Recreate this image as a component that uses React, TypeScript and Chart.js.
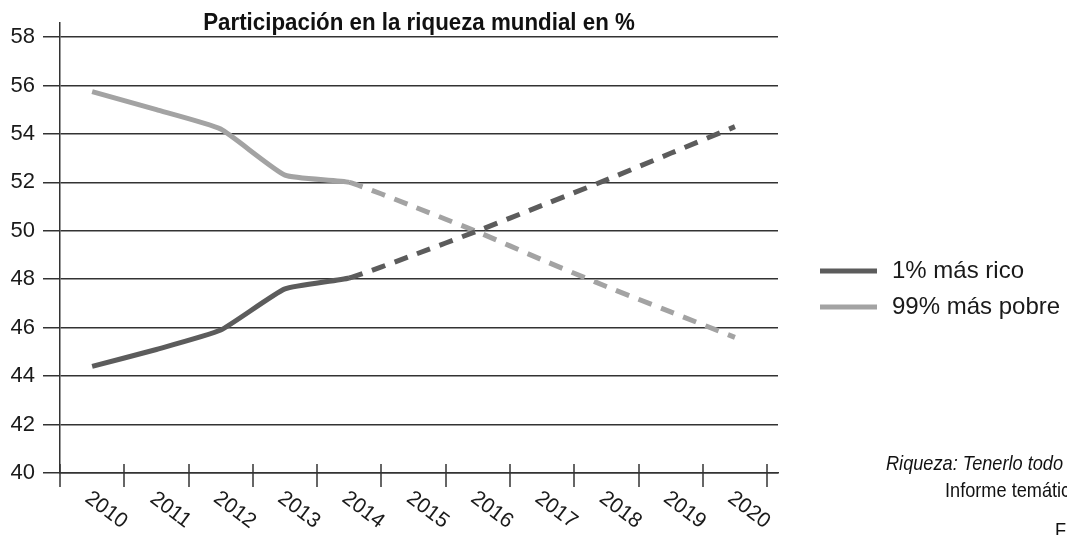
import React, { useEffect, useRef } from "react";
import { Chart, registerables } from "chart.js";

Chart.register(...registerables);

const TITLE = "Participación en la riqueza mundial en %";
const YEARS = [2010, 2011, 2012, 2013, 2014, 2015, 2016, 2017, 2018, 2019, 2020];
const RICH = [44.4, 45.1, 45.9, 47.6, 48.05, 49.0, 50.0, 51.05, 52.1, 53.2, 54.3];
const POOR = [55.75, 55.0, 54.2, 52.3, 52.0, 51.0, 49.95, 48.8, 47.7, 46.65, 45.6];
const SERIES_LABELS = ["1% más rico", "99% más pobre"];
const SERIES_COLORS = ["#5c5c5c", "#a3a3a3"];
const LAST_SOLID_INDEX = 4;
const Y_MIN = 40;
const Y_MAX = 58.58;
const Y_STEP = 2;
const SOURCE_LINES = [
  "Riqueza: Tenerlo todo y siempre querer más",
  "Informe temático de Oxfam",
  "Fuente: Credit Suisse",
];

const SANS = '"Liberation Sans", Arial, sans-serif';
const AXIS_COLOR = "#333333";

function narrowText(
  ctx: CanvasRenderingContext2D,
  text: string,
  x: number,
  y: number,
  sx: number,
  align: CanvasTextAlign
) {
  ctx.save();
  ctx.translate(x, y);
  ctx.scale(sx, 1);
  ctx.textAlign = align;
  ctx.fillText(text, 0, 0);
  ctx.restore();
}

const overlayPlugin = {
  id: "overlay",
  afterDraw(chart: any) {
    const ctx = chart.ctx as CanvasRenderingContext2D;
    const xs = chart.scales.x;
    const area = chart.chartArea;
    ctx.save();

    // x tick marks crossing the axis
    ctx.strokeStyle = AXIS_COLOR;
    ctx.lineWidth = 1.5;
    for (let i = 0; i <= YEARS.length; i++) {
      const px = Math.round(xs.getPixelForValue(YEARS[0] - 0.5 + i));
      ctx.beginPath();
      ctx.moveTo(px, area.bottom - 9);
      ctx.lineTo(px, area.bottom + 14);
      ctx.stroke();
    }

    // rotated year labels
    ctx.fillStyle = "#1a1a1a";
    ctx.font = `21px ${SANS}`;
    ctx.textAlign = "center";
    ctx.textBaseline = "middle";
    YEARS.forEach((yr) => {
      const px = xs.getPixelForValue(yr);
      ctx.save();
      ctx.translate(px + 14, area.bottom + 37);
      ctx.rotate((37 * Math.PI) / 180);
      ctx.fillText(String(yr), 0, 0);
      ctx.restore();
    });

    // title
    ctx.font = `bold 24px ${SANS}`;
    ctx.textBaseline = "alphabetic";
    ctx.fillStyle = "#111111";
    narrowText(ctx, TITLE, (area.left + area.right) / 2, 29.5, 0.93, "center");

    // legend
    chart.data.datasets.forEach((ds: any, i: number) => {
      const y = 271 + i * 36;
      ctx.strokeStyle = ds.borderColor;
      ctx.lineWidth = 5;
      ctx.beginPath();
      ctx.moveTo(820, y);
      ctx.lineTo(877, y);
      ctx.stroke();
      ctx.fillStyle = "#1a1a1a";
      ctx.font = `24px ${SANS}`;
      ctx.textAlign = "left";
      ctx.textBaseline = "middle";
      ctx.fillText(ds.label, 892, y);
    });

    // source note (clipped by canvas edge, as in the reference)
    ctx.fillStyle = "#111111";
    ctx.textBaseline = "middle";
    ctx.font = `italic 21px ${SANS}`;
    narrowText(ctx, SOURCE_LINES[0], 886, 464, 0.865, "left");
    ctx.font = `21px ${SANS}`;
    narrowText(ctx, SOURCE_LINES[1], 945, 491, 0.865, "left");
    narrowText(ctx, SOURCE_LINES[2], 1055, 531, 0.865, "left");

    ctx.restore();
  },
};

export default function App() {
  const ref = useRef<HTMLCanvasElement | null>(null);

  useEffect(() => {
    document.body.style.margin = "0";
    const canvas = ref.current;
    if (!canvas) return;
    const seriesList = [RICH, POOR];
    const chart = new Chart(canvas, {
      type: "line",
      data: {
        datasets: seriesList.map((vals, si) => ({
          label: SERIES_LABELS[si],
          data: vals.map((v, i) => ({ x: YEARS[i], y: v })),
          borderColor: SERIES_COLORS[si],
          backgroundColor: SERIES_COLORS[si],
          borderWidth: 5,
          pointRadius: 0,
          tension: 0.15,
          fill: false,
          borderCapStyle: "butt",
          segment: {
            borderDash: (c: any) => (c.p0DataIndex >= LAST_SOLID_INDEX ? [14, 10] : undefined),
          },
        })),
      },
      options: {
        responsive: false,
        animation: false,
        layout: { padding: { top: 23, right: 1067 - 778, left: 0, bottom: 0 } },
        plugins: {
          legend: { display: false },
          title: { display: false },
          tooltip: { enabled: false },
        },
        scales: {
          x: {
            type: "linear",
            min: YEARS[0] - 0.5,
            max: YEARS[YEARS.length - 1] + 0.67,
            grid: { display: false },
            ticks: { display: false },
            border: { display: true, color: AXIS_COLOR, width: 1.5 },
            afterFit: (s: any) => {
              s.height = 62;
            },
          },
          y: {
            min: Y_MIN,
            max: Y_MAX,
            ticks: {
              stepSize: Y_STEP,
              includeBounds: false,
              color: "#1a1a1a",
              font: { family: SANS, size: 22 },
              padding: 8,
            },
            grid: { color: AXIS_COLOR, lineWidth: 1.5, tickLength: 17, drawTicks: true },
            border: { display: true, color: AXIS_COLOR, width: 1.5 },
            afterFit: (s: any) => {
              s.width = 60;
            },
          },
        },
      },
      plugins: [overlayPlugin],
    } as any);
    return () => chart.destroy();
  }, []);

  return (
    <div style={{ width: 1067, height: 535, background: "#ffffff" }}>
      <canvas ref={ref} width={1067} height={535} />
    </div>
  );
}
